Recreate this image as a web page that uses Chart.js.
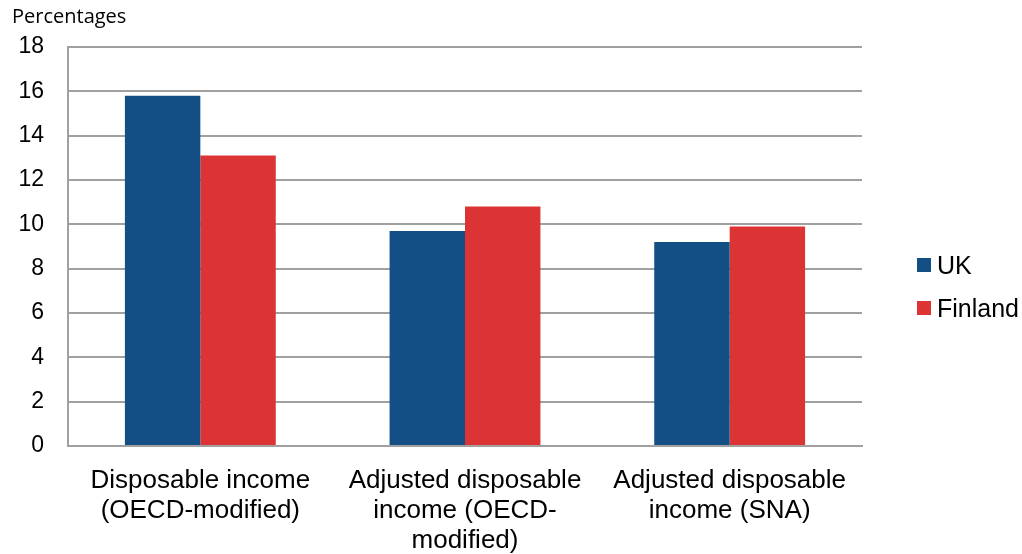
<!DOCTYPE html>
<html lang="en">
<head>
  <meta charset="UTF-8">
  <title>Income shares: UK and Finland</title>
  <script src="https://cdn.jsdelivr.net/npm/chart.js"></script>
  <style>
    body { margin: 0; background: #fff; }
    #wrap { position: relative; width: 1022px; height: 554px; }
    #legend { position: absolute; left: 917px; top: 248px; font-family: 'Liberation Sans', Arial, sans-serif; font-size: 25px; color: #000; }
    #legend div { display: flex; align-items: center; height: 34px; margin-bottom: 9px; }
    #legend span { display: inline-block; width: 14px; height: 14px; margin-right: 6px; }
  </style>
</head>
<body>
  <div id="wrap">
    <canvas id="chart"></canvas>
    <div id="legend"></div>
  </div>

  <script>
    const categories = [
      ['Disposable income', '(OECD-modified)'],
      ['Adjusted disposable', 'income (OECD-', 'modified)'],
      ['Adjusted disposable', 'income (SNA)']
    ];
    const ukValues = [15.8, 9.7, 9.2];
    const finlandValues = [13.1, 10.8, 9.9];
    const yTicks = [0, 2, 4, 6, 8, 10, 12, 14, 16, 18];

    const font = 'Liberation Sans, Arial, sans-serif';
    const gridGray = '#a0a0a0';

    const chart = new Chart(document.getElementById('chart'), {
      type: 'bar',
      data: {
        labels: categories,
        datasets: [
          { label: 'UK', data: ukValues, backgroundColor: '#134f85' },
          { label: 'Finland', data: finlandValues, backgroundColor: '#dc3434' }
        ]
      },
      options: {
        responsive: true,
        maintainAspectRatio: false,
        animation: false,
        datasets: { bar: { categoryPercentage: 0.57, barPercentage: 1 } },
        layout: { padding: { left: 12, right: 160, top: 0, bottom: 0 } },
        plugins: {
          title: {
            display: true,
            text: 'Percentages',
            align: 'start',
            color: '#000',
            font: { family: 'Open Sans, sans-serif', size: 20, weight: 'normal', lineHeight: 1.2 },
            padding: { top: 5, bottom: 18 }
          },
          legend: { display: false },
          tooltip: { enabled: false }
        },
        scales: {
          x: {
            afterFit: (scale) => { scale.height = 108; },
            grid: { display: false, drawTicks: false },
            border: { color: gridGray, width: 2 },
            ticks: {
              color: '#000',
              padding: 20,
              maxRotation: 0,
              autoSkip: false,
              font: { family: font, size: 26, lineHeight: 1.15 }
            }
          },
          y: {
            min: 0,
            max: 18,
            afterBuildTicks: (scale) => { scale.ticks = yTicks.map(v => ({ value: v })); },
            afterFit: (scale) => { scale.width = 56; },
            grid: { color: gridGray, lineWidth: 2, drawTicks: false },
            border: { color: gridGray, width: 2 },
            ticks: {
              color: '#000',
              padding: 24,
              font: { family: font, size: 23 }
            }
          }
        }
      }
    });

    // legend beside the plot, built from the datasets
    const legend = document.getElementById('legend');
    chart.data.datasets.forEach(ds => {
      const row = document.createElement('div');
      const box = document.createElement('span');
      box.style.background = ds.backgroundColor;
      row.appendChild(box);
      row.appendChild(document.createTextNode(ds.label));
      legend.appendChild(row);
    });
  </script>
</body>
</html>
